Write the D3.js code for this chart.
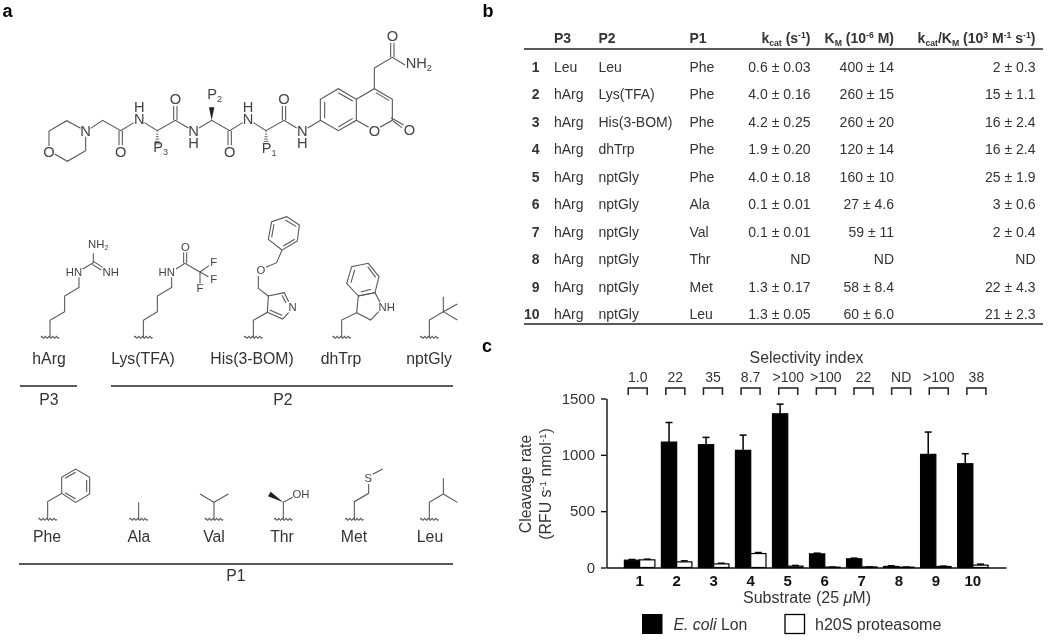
<!DOCTYPE html>
<html>
<head>
<meta charset="utf-8">
<script src="https://cdn.jsdelivr.net/npm/d3@7"></script>
<style>
  html, body { margin:0; padding:0; background:#fff; }
  svg { filter:blur(0.35px); }
  text { font-family:"Liberation Sans", Arial, sans-serif; fill:#333; }
</style>
</head>
<body>
<div id="fig"></div>
<script>
// ---- panel c values
const substrates = ['1','2','3','4','5','6','7','8','9','10'];
const lonRate = [65,1113,1090,1040,1364,121,77,9,1004,921];
const lonErr = [6,174,65,135,86,6,6,6,198,89];
const proteasomeRate = [68,50,32,124,12,3,5,3,9,21];
const proteasomeErr = [6,9,6,9,6,1,1,1,3,9];
const selectivity = ['1.0','22','35','8.7','>100','>100','22','ND','>100','38'];
const rateTicks = [0,500,1000,1500];

// ---- panel b table
const rowIds = ['1','2','3','4','5','6','7','8','9','10'];
const p3 = ['Leu','hArg','hArg','hArg','hArg','hArg','hArg','hArg','hArg','hArg'];
const p2 = ['Leu','Lys(TFA)','His(3-BOM)','dhTrp','nptGly','nptGly','nptGly','nptGly','nptGly','nptGly'];
const p1 = ['Phe','Phe','Phe','Phe','Phe','Ala','Val','Thr','Met','Leu'];
const kcat = ['0.6 ± 0.03','4.0 ± 0.16','4.2 ± 0.25','1.9 ± 0.20','4.0 ± 0.18','0.1 ± 0.01','0.1 ± 0.01','ND','1.3 ± 0.17','1.3 ± 0.05'];
const km = ['400 ± 14','260 ± 15','260 ± 20','120 ± 14','160 ± 10','27 ± 4.6','59 ± 11','ND','58 ± 8.4','60 ± 6.0'];
const ratio = ['2 ± 0.3','15 ± 1.1','16 ± 2.4','16 ± 2.4','25 ± 1.9','3 ± 0.6','2 ± 0.4','ND','22 ± 4.3','21 ± 2.3'];

// ---- panel a labels
const p3Names = ['hArg'];
const p2Names = ['Lys(TFA)','His(3-BOM)','dhTrp','nptGly'];
const p1Names = ['Phe','Ala','Val','Thr','Met','Leu'];

const svg = d3.select('#fig').append('svg')
    .attr('width',1050)
    .attr('height',640)
    .style('display','block');

// writes a run of [string, style] pieces into one text element
function rich(sel, parts, size){
    let shift = 0;
    parts.forEach(([s,kind]) => {
        const t = sel.append('tspan').text(s);
        let dy = 0;
        if(kind === 'sup'){ dy = -size*0.33; t.style('font-size',size*0.62+'px'); }
        else if(kind === 'sub'){ dy = size*0.2; t.style('font-size',size*0.62+'px'); }
        else if(kind === 'i'){ t.style('font-style','italic'); }
        t.attr('dy',dy - shift);
        shift = dy;
    });
    return sel;
}

function label(x,y,s,size,anchor){
    return svg.append('text')
        .attr('x',x).attr('y',y)
        .attr('text-anchor',anchor || 'middle')
        .style('font-size',size+'px')
        .text(s);
}

// panel letters
[['a',2.5,16.5],['b',482.5,16.5],['c',482,352]].forEach(([s,x,y]) => {
    label(x,y,s,18,'start').style('font-weight','bold').style('fill','#000');
});

// ---------------- panel c ----------------
const x = d3.scaleBand().domain(substrates).range([606.5,1006]).paddingInner(0.176).paddingOuter(0.483);
const xSub = d3.scaleBand().domain(['lon','h20s']).range([0,x.bandwidth()]);
const y = d3.scaleLinear().domain([0,1500]).range([567.5,398.5]);

const chart = svg.append('g');

const yAxis = chart.append('g')
    .attr('transform','translate(606.5,0)')
    .call(d3.axisLeft(y).tickValues(rateTicks).tickFormat(d3.format('d')).tickSize(5.5).tickPadding(6).tickSizeOuter(0));
const xAxis = chart.append('g')
    .attr('transform','translate(0,567.5)')
    .call(d3.axisBottom(x).tickSize(0).tickPadding(8));
[yAxis,xAxis].forEach(a => {
    a.selectAll('path,line').attr('stroke','#111').attr('stroke-width',1.4);
    a.selectAll('text').style('font-size','15px').attr('font-family',null);
});
xAxis.selectAll('text').style('font-weight','bold').style('fill','#111');

const bars = [
    {key:'lon', vals:lonRate, errs:lonErr, fill:'#000'},
    {key:'h20s', vals:proteasomeRate, errs:proteasomeErr, fill:'#fff'}
];
bars.forEach(s => {
    const g = chart.append('g');
    substrates.forEach((id,i) => {
        const cx = x(id) + xSub(s.key) + xSub.bandwidth()/2;
        const top = y(s.vals[i]);
        const errTop = y(s.vals[i] + s.errs[i]);
        g.append('line').attr('x1',cx).attr('x2',cx).attr('y1',top).attr('y2',errTop)
            .attr('stroke','#000').attr('stroke-width',1.5);
        g.append('line').attr('x1',cx-3.5).attr('x2',cx+3.5).attr('y1',errTop).attr('y2',errTop)
            .attr('stroke','#000').attr('stroke-width',1.5);
        g.append('rect')
            .attr('x',x(id) + xSub(s.key))
            .attr('y',top)
            .attr('width',xSub.bandwidth())
            .attr('height',y(0)-top)
            .attr('fill',s.fill)
            .attr('stroke','#000')
            .attr('stroke-width',1.2);
    });
});

// selectivity brackets are spaced a little wider than the bars
const sel = d3.scalePoint().domain(substrates).range([637.7,976.4]);
label(806.5,362.5,'Selectivity index',15.9);
substrates.forEach((id,i) => {
    const cx = sel(id);
    label(cx,382,selectivity[i],14);
    svg.append('path')
        .attr('d',d3.line()([[cx-9.5,395],[cx-9.5,388],[cx+9.5,388],[cx+9.5,395]]))
        .attr('fill','none').attr('stroke','#222').attr('stroke-width',1.5);
});

label(807,603,'',16).call(rich,[['Substrate (25 '],['μ','i'],['M)']],16);
svg.append('text').attr('transform','translate(531,484) rotate(-90)')
    .attr('text-anchor','middle').style('font-size','15.8px').text('Cleavage rate');
svg.append('text').attr('transform','translate(551,484) rotate(-90)')
    .attr('text-anchor','middle').style('font-size','15.8px')
    .call(rich,[['(RFU s'],['-1','sup'],[' nmol'],['-1','sup'],[')']],15.8);

svg.append('rect').attr('x',642).attr('y',614).attr('width',20.5).attr('height',20).attr('fill','#000');
svg.append('rect').attr('x',785).attr('y',614.5).attr('width',19.5).attr('height',19)
    .attr('fill','#fff').attr('stroke','#000').attr('stroke-width',1.3);
label(673.5,629.5,'',15.8,'start').call(rich,[['E. coli','i'],[' Lon']],15.8);
label(815,629.5,'h20S proteasome',16,'start');

// ---------------- panel b ----------------
const rowY = d3.scalePoint().domain(rowIds).range([72,319]);
const tableSize = 14;
const headers = [
    {x:554, anchor:'start', parts:[['P3']]},
    {x:598.5, anchor:'start', parts:[['P2']]},
    {x:689.5, anchor:'start', parts:[['P1']]},
    {x:810.5, anchor:'end', parts:[['k'],['cat','sub'],[' (s'],['-1','sup'],[')']]},
    {x:894, anchor:'end', parts:[['K'],['M','sub'],[' (10'],['-6','sup'],[' M)']]},
    {x:1035.5, anchor:'end', parts:[['k'],['cat','sub'],['/K'],['M','sub'],[' (10'],['3','sup'],[' M'],['-1','sup'],[' s'],['-1','sup'],[')']]}
];
headers.forEach(h => {
    label(h.x,43,'',tableSize,h.anchor).style('font-weight','bold').call(rich,h.parts,tableSize);
});
[[49,1.6],[324,1.6]].forEach(([ly,w]) => {
    svg.append('line').attr('x1',524).attr('x2',1043).attr('y1',ly).attr('y2',ly)
        .attr('stroke','#222').attr('stroke-width',w);
});
const columns = [
    {vals:rowIds, x:539.5, anchor:'end', bold:true},
    {vals:p3, x:554, anchor:'start'},
    {vals:p2, x:598.5, anchor:'start'},
    {vals:p1, x:689.5, anchor:'start'},
    {vals:kcat, x:810.5, anchor:'end'},
    {vals:km, x:894, anchor:'end'},
    {vals:ratio, x:1035.5, anchor:'end'}
];
columns.forEach(c => {
    c.vals.forEach((v,i) => {
        const t = label(c.x,rowY(rowIds[i]),v,tableSize,c.anchor);
        if(c.bold) t.style('font-weight','bold');
    });
});

// ---------------- panel a ----------------
// structures are traced in 3x crop coordinates, then scaled down
const bondColor = '#555';

function structure(ox,oy,lines,wedges,atoms,size){
    const g = svg.append('g').attr('transform',`translate(${ox},${oy}) scale(${1/3})`);
    lines.forEach(pts => {
        g.append('path').attr('d',d3.line()(pts))
            .attr('fill','none').attr('stroke',bondColor).attr('stroke-width',3.2);
    });
    (wedges || []).forEach(w => {
        const nx = -(w.b[1]-w.a[1]), ny = w.b[0]-w.a[0];
        const l = Math.hypot(nx,ny);
        if(w.dash){
            d3.range(6).forEach(k => {
                const f = (k+0.5)/6;
                const px = w.a[0]+(w.b[0]-w.a[0])*f, py = w.a[1]+(w.b[1]-w.a[1])*f;
                const half = 1+f*8;
                g.append('line')
                    .attr('x1',px-nx/l*half).attr('y1',py-ny/l*half)
                    .attr('x2',px+nx/l*half).attr('y2',py+ny/l*half)
                    .attr('stroke',bondColor).attr('stroke-width',2.6);
            });
        } else {
            g.append('path')
                .attr('d',d3.line()([w.a,[w.b[0]-nx/l*8,w.b[1]-ny/l*8],[w.b[0]+nx/l*8,w.b[1]+ny/l*8]]))
                .attr('fill','#222');
        }
    });
    (atoms || []).forEach(([s,ax,ay,anchor]) => {
        const t = g.append('text')
            .attr('x',ax).attr('y',ay)
            .attr('dy','.35em')
            .attr('text-anchor',anchor || 'middle')
            .style('font-size',size+'px')
            .style('fill','#444');
        if(Array.isArray(s)) t.call(rich,s,size);
        else if(s.includes('|')){
            // stacked N over H labels stay in one text element
            const [top,bottom] = s.split('|');
            t.append('tspan').attr('x',ax).text(top);
            t.append('tspan').attr('x',ax).attr('dy',36).text(bottom);
        }
        else t.text(s);
    });
}

// wavy attachment line under each side chain
function squiggle(cx,cy){
    const n = 5, w = 55/n, pts = [];
    d3.range(n*4+1).forEach(k => {
        pts.push([cx-27.5+k*w/4, cy+[0,-3,0,3][k%4]]);
    });
    return pts;
}

// main peptide
structure(30,0,[
    [[57,438],[57,393],[110,362],[152,385]],
    [[167,410],[167,452],[112,484],[74,462]],
    [[182,385],[218,361],[272,392],[312,368]],
    [[267,392],[267,436]],[[277,392],[277,436]],
    [[343,368],[382,392],[436,361],[475,384]],
    [[431,361],[431,318]],[[441,361],[441,318]],
    [[507,384],[545,361],[599,392],[638,368]],
    [[594,392],[594,436]],[[604,392],[604,436]],
    [[670,368],[708,392],[762,361],[800,384]],
    [[757,361],[757,318]],[[767,361],[767,318]],
    [[833,384],[871,361],[871,298],[925,266],[979,298],[979,361],[925,392],[871,361]],
    [[884,355],[884,305]],[[925,278],[968,303]],[[925,381],[968,355]],
    [[979,298],[1033,266],[1087,298],[1087,361],[1050,382]],
    [[1016,382],[979,361]],
    [[1038,278],[1078,302]],
    [[1083,353],[1121,375]],[[1089,363],[1116,383]],
    [[1033,266],[1033,204],[1087,172],[1125,195]],
    [[1082,172],[1082,128]],[[1092,172],[1092,128]]
],[
    {a:[382,392],b:[382,435],dash:true},
    {a:[545,361],b:[545,322]},
    {a:[708,392],b:[708,435],dash:true}
],[
    ['O',57,455],['N',167,393],['O',272,455],['H|N',328,322],
    [[['P'],['3','sub']],370,456,'start'],
    ['O',436,297],['N|H',491,392],
    [[['P'],['2','sub']],532,296,'start'],
    ['O',599,455],['H|N',654,322],
    [[['P'],['1','sub']],695,458,'start'],
    ['O',762,297],['N|H',817,392],
    ['O',1033,392],['O',1138,390],['O',1087,108],
    [[['NH'],['2','sub']],1127,203,'start']
],44);

// P3 / P2 side chains
const sideSize = 34;
structure(0,220,[
    squiggle(150,352),
    [[150,352],[150,301],[194,275],[194,228],[237,202],[237,172]],
    [[248,147],[280,128],[280,100]],
    [[280,124],[308,142]],[[276,133],[304,150]],
    squiggle(430,352),
    [[430,352],[430,301],[472,275],[472,228],[515,202],[515,172]],
    [[528,147],[555,130],[600,156],[627,137]],
    [[551,130],[551,97]],[[560,130],[560,97]],
    [[600,156],[625,170]],[[600,156],[600,190]],
    squiggle(760,352),
    [[760,352],[760,301],[802,277],[805,228],[853,218],[866,245]],
    [[866,278],[848,297],[802,277]],
    [[846,286],[809,270]],[[846,226],[858,249]],
    [[805,228],[775,205],[775,168]],
    [[798,142],[830,128],[846,90],[892,63],[898,15],[860,-10],[815,5],[805,58],[846,90]],
    [[850,78],[884,58]],[[889,20],[856,0]],[[822,12],[815,52]],
    squiggle(1025,352),
    [[1025,352],[1025,300],[1070,278],[1075,228],[1125,218],[1140,247]],
    [[1070,278],[1112,300],[1136,275]],
    [[1075,228],[1040,190],[1055,140],[1105,130],[1137,170],[1125,218],[1075,228]],
    [[1053,188],[1064,150]],[[1103,140],[1127,172]],[[1113,208],[1082,216]],
    squiggle(1288,352),
    [[1288,352],[1288,300],[1330,275],[1330,230]],
    [[1330,275],[1372,252]],[[1330,275],[1372,300]]
],[],[
    [[['NH'],['2','sub']],264,84,'start'],
    ['HN',222,156],['NH',332,156],
    ['HN',500,156],['O',556,82],['F',641,127],['F',641,177],['F',600,204],
    ['O',783,150],['N',878,262],
    ['NH',1160,262]
],sideSize);

// P1 side chains
structure(0,470,[
    squiggle(143,148),
    [[143,148],[143,95],[185,70],[185,22],[227,-3],[269,22],[269,72],[227,97],[185,70]],
    [[195,25],[227,7]],[[260,30],[260,66]],[[227,87],[195,68]],
    squiggle(416,148),
    [[416,148],[416,97]],
    squiggle(642,148),
    [[642,148],[642,97],[600,72]],[[642,97],[685,72]],
    squiggle(850,148),
    [[850,148],[850,97],[878,82]],
    squiggle(1063,148),
    [[1063,148],[1063,95],[1106,70],[1106,42]],
    [[1118,13],[1148,-3]],
    squiggle(1288,148),
    [[1288,148],[1288,97],[1330,72],[1330,25]],
    [[1330,72],[1372,97]]
],[
    {a:[850,97],b:[808,72]}
],[
    ['OH',903,73],['S',1105,25]
],sideSize);

const nameSize = 15.8;
const p3Centers = d3.scaleOrdinal().domain(p3Names).range([49]);
const p2Centers = d3.scaleOrdinal().domain(p2Names).range([143,252,341,429]);
const p1Centers = d3.scaleOrdinal().domain(p1Names).range([47,139,214,282,354,430]);
p3Names.forEach(n => label(p3Centers(n),364,n,nameSize));
p2Names.forEach(n => label(p2Centers(n),364,n,nameSize));
p1Names.forEach(n => label(p1Centers(n),542,n,nameSize));

[[20,77,386,49,'P3',405],[111,453,386,283,'P2',405],[19,453,564,236,'P1',581]].forEach(([a,b,ly,cx,s,ty]) => {
    svg.append('line').attr('x1',a).attr('x2',b).attr('y1',ly).attr('y2',ly)
        .attr('stroke','#222').attr('stroke-width',1.5);
    label(cx,ty,s,nameSize);
});
</script>
</body>
</html>
